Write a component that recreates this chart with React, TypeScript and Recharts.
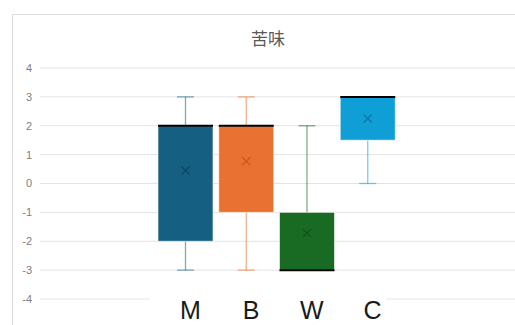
import React from "react";
import { ComposedChart, Bar, XAxis, YAxis, CartesianGrid } from "recharts";

const categories = ["M", "B", "W", "C"];
const minValues = [-3, -3, -3, 0];
const q1Values = [-2, -1, -3, 1.5];
const medianValues = [2, 2, -3, 3];
const q3Values = [2, 2, -1, 3];
const maxValues = [3, 3, 2, 3];
const meanValues = [0.45, 0.77, -1.72, 2.25];
const yTicks = [-4, -3, -2, -1, 0, 1, 2, 3, 4];
const colors = ["#156082", "#E97132", "#196B24", "#0F9ED5"];
const meanColors = ["#0e4560", "#c85a22", "#124f1a", "#0b78a3"];

const data = categories.map((name, i) => ({
  name,
  min: minValues[i],
  q1: q1Values[i],
  median: medianValues[i],
  q3: q3Values[i],
  max: maxValues[i],
  mean: meanValues[i],
  idx: i,
}));

// box + whiskers + median + mean, scale derived from the ranged bar geometry
function BoxShape(props: any) {
  const { x, y, width, height, payload } = props;
  if (!payload) return null;
  const top = Math.min(y, y + height);
  const bottom = Math.max(y, y + height);
  const px = (bottom - top) / (payload.q3 - payload.q1);
  const toY = (v: number) => bottom - (v - payload.q1) * px;
  const cx = x + width / 2;
  const c = colors[payload.idx];
  const cap = 8.5;
  const m = 4;
  const my = toY(payload.mean);
  return (
    <g>
      {payload.max > payload.q3 && (
        <g stroke={c} strokeOpacity={0.55} strokeWidth={1.3}>
          <line x1={cx} x2={cx} y1={toY(payload.max)} y2={top} />
          <line x1={cx - cap} x2={cx + cap} y1={toY(payload.max)} y2={toY(payload.max)} />
        </g>
      )}
      {payload.min < payload.q1 && (
        <g stroke={c} strokeOpacity={0.55} strokeWidth={1.3}>
          <line x1={cx} x2={cx} y1={bottom} y2={toY(payload.min)} />
          <line x1={cx - cap} x2={cx + cap} y1={toY(payload.min)} y2={toY(payload.min)} />
        </g>
      )}
      <rect x={x} y={top} width={width} height={bottom - top} fill={c} stroke="#ffffff" strokeOpacity={0.6} strokeWidth={1} />
      <line x1={x} x2={x + width} y1={toY(payload.median)} y2={toY(payload.median)} stroke="#000000" strokeWidth={2} />
      <g stroke={meanColors[payload.idx]} strokeWidth={1.2}>
        <line x1={cx - m} x2={cx + m} y1={my - m} y2={my + m} />
        <line x1={cx - m} x2={cx + m} y1={my + m} y2={my - m} />
      </g>
    </g>
  );
}

function CategoryTick(props: any) {
  const { x, payload, index } = props;
  const w = index === categories.length - 1 ? 55 : 62;
  return (
    <g>
      <rect x={x - 36} y={292} width={w} height={40} fill="#ffffff" />
      <text x={x + 5} y={319} textAnchor="middle" fontSize={25} fill="#1a1a1a" fontFamily="'Liberation Sans', Arial, sans-serif">
        {payload.value}
      </text>
    </g>
  );
}

export default function App() {
  return (
    <div style={{ position: "fixed", left: 0, top: 0, width: 515, height: 325, overflow: "hidden", background: "#fff" }}>
      <div
        style={{
          position: "absolute",
          left: 12,
          top: 14,
          width: 520,
          height: 330,
          borderTop: "1px solid #dcdcdc",
          borderLeft: "1px solid #dcdcdc",
        }}
      />
      <div
        style={{
          position: "absolute",
          left: 0,
          width: 536,
          top: 26,
          textAlign: "center",
          fontSize: 17,
          color: "#595959",
          fontFamily: "'Noto Sans CJK JP', 'Noto Sans CJK SC', sans-serif",
          lineHeight: "24px",
        }}
      >
        苦味
      </div>
      <div style={{ position: "absolute", left: 0, top: 0 }}>
        <ComposedChart width={515} height={325} data={data} margin={{ top: 68, right: 0, bottom: 0, left: 0 }}>
          <CartesianGrid vertical={false} stroke="#e3e3e3" strokeWidth={1} />
          <YAxis
            type="number"
            domain={[-4, 4]}
            ticks={yTicks}
            interval={0}
            width={40}
            axisLine={false}
            tickLine={false}
            tick={{ fill: "#808080", fontSize: 11, fontFamily: "'Liberation Sans', Arial, sans-serif" }}
          />
          <XAxis
            dataKey="name"
            type="category"
            height={26}
            padding={{ left: 115, right: 117 }}
            axisLine={false}
            tickLine={false}
            tick={<CategoryTick />}
            interval={0}
          />
          <Bar dataKey={(d: any) => [d.q1, d.q3]} barSize={55} shape={<BoxShape />} isAnimationActive={false} />
        </ComposedChart>
      </div>
    </div>
  );
}
